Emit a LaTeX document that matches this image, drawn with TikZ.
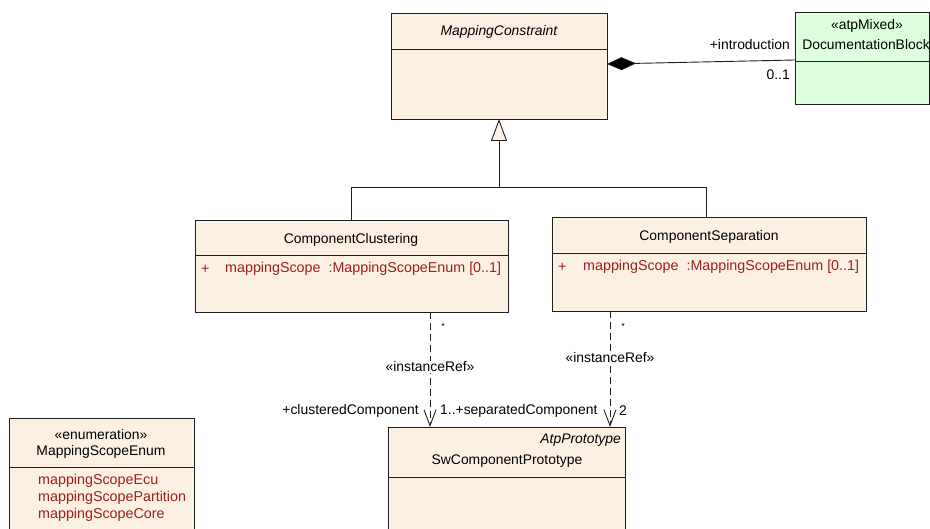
\documentclass[tikz,border=0pt]{standalone}
\usepackage{fontspec}
\setmainfont{Liberation Sans}
\usetikzlibrary{arrows.meta}
\definecolor{boxfill}{RGB}{251,240,226}
\definecolor{greenfill}{RGB}{221,255,221}
\definecolor{attrred}{RGB}{160,30,30}
\definecolor{linecol}{RGB}{30,30,30}
\begin{document}
\begin{tikzpicture}[x=1pt,y=-1pt,
  font=\fontsize{13.9}{16}\selectfont,
  box/.style={draw=linecol, fill=boxfill, line width=0.9pt, anchor=north west, inner sep=0pt, outer sep=0pt},
  gbox/.style={box, fill=greenfill},
  divline/.style={draw=linecol, line width=0.9pt},
  conn/.style={draw=linecol, line width=0.9pt},
  dconn/.style={conn, dash pattern=on 7pt off 4pt, -{Straight Barb[length=16pt,width=12pt,line width=0.9pt]}},
  lbl/.style={inner sep=0pt, text=black},
  attr/.style={lbl, anchor=west, text=attrred, font=\fontsize{14.3}{16}\selectfont},
  small/.style={lbl, font=\fontsize{9}{10}\selectfont}
]
\useasboundingbox (0,0) rectangle (930,529);
\clip (0,0) rectangle (930,529);

% MappingConstraint
\node[box, minimum width=216pt, minimum height=106pt] (mc) at (391,13) {};
\draw[divline] ([yshift=-36pt]mc.north west) -- ([yshift=-36pt]mc.north east);
\node[lbl] (mct) at (499,32) {\itshape MappingConstraint};

% DocumentationBlock
\node[gbox, minimum width=134pt, minimum height=92pt] (db) at (795,12) {};
\draw[divline] ([yshift=-49pt]db.north west) -- ([yshift=-49pt]db.north east);
\node[lbl] (dbs) at (867,26) {«atpMixed»};
\node[lbl] (dbt) at (866,45) {DocumentationBlock};

% ComponentClustering
\node[box, minimum width=313pt, minimum height=92pt] (cc) at (195,220) {};
\draw[divline] ([yshift=-35pt]cc.north west) -- ([yshift=-35pt]cc.north east);
\node[lbl] (cct) at (351,240) {ComponentClustering};
\node[attr] (ccp) at (201,269) {+};
\node[attr] (cca) at (225,269) {mappingScope\hspace{8pt}:MappingScopeEnum [0..1]};

% ComponentSeparation
\node[box, minimum width=314pt, minimum height=94pt] (cs) at (552,217) {};
\draw[divline] ([yshift=-36pt]cs.north west) -- ([yshift=-36pt]cs.north east);
\node[lbl] (cst) at (709,237) {ComponentSeparation};
\node[attr] (csp) at (558,267) {+};
\node[attr] (csa) at (583,267) {mappingScope\hspace{8pt}:MappingScopeEnum [0..1]};

% SwComponentPrototype
\node[box, minimum width=237pt, minimum height=130pt] (sw) at (388,427) {};
\draw[divline] ([yshift=-50pt]sw.north west) -- ([yshift=-50pt]sw.north east);
\node[lbl, anchor=east] (swst) at (621,440) {\itshape AtpPrototype};
\node[lbl] (swt) at (507,461) {SwComponentPrototype};

% MappingScopeEnum
\node[box, minimum width=185pt, minimum height=140pt] (en) at (9,418) {};
\draw[divline] ([yshift=-49pt]en.north west) -- ([yshift=-49pt]en.north east);
\node[lbl] (ens) at (101,435) {«enumeration»};
\node[lbl] (ent) at (101,452) {MappingScopeEnum};
\node[attr] (en1) at (38,481) {mappingScopeEcu};
\node[attr] (en2) at (38,498) {mappingScopePartition};
\node[attr] (en3) at (38,515) {mappingScopeCore};

% composition
\draw[conn, {Diamond[length=29pt,width=13pt,fill=black]}-] ([yshift=2pt]mc.east) -- ([yshift=-2pt]db.west);
\node[lbl, anchor=east] (intro) at (790,45) {+introduction};
\node[lbl, anchor=east] (m01) at (790,75) {0..1};

% generalization
\coordinate (j) at (mc.south |- 0,187);
\draw[conn] (cc.north) |- (j);
\draw[conn] ([xshift=-3pt]cs.north) |- (j);
\draw[conn, -{Triangle[open,fill=boxfill,length=22pt,width=16pt]}] (j) -- (mc.south);

% instanceRef dependencies
\draw[dconn] ([xshift=78.5pt]cc.south) -- ([xshift=-76.5pt]sw.north);
\draw[dconn] ([xshift=-99pt]cs.south) -- ([xshift=103.5pt]sw.north);
\node[lbl, fill=white, inner sep=1pt] (ir1) at (430,367) {«instanceRef»};
\node[lbl, fill=white, inner sep=1pt] (ir2) at (610,358) {«instanceRef»};
\node[small] (st1) at (443,326) {*};
\node[small] (st2) at (623,326) {*};
\node[lbl, anchor=east] (clc) at (419,411) {+clusteredComponent};
\node[lbl, anchor=west] (spc) at (440,411) {1..+separatedComponent};
\node[lbl, anchor=west] (two) at (619,411) {2};
\end{tikzpicture}
\end{document}
